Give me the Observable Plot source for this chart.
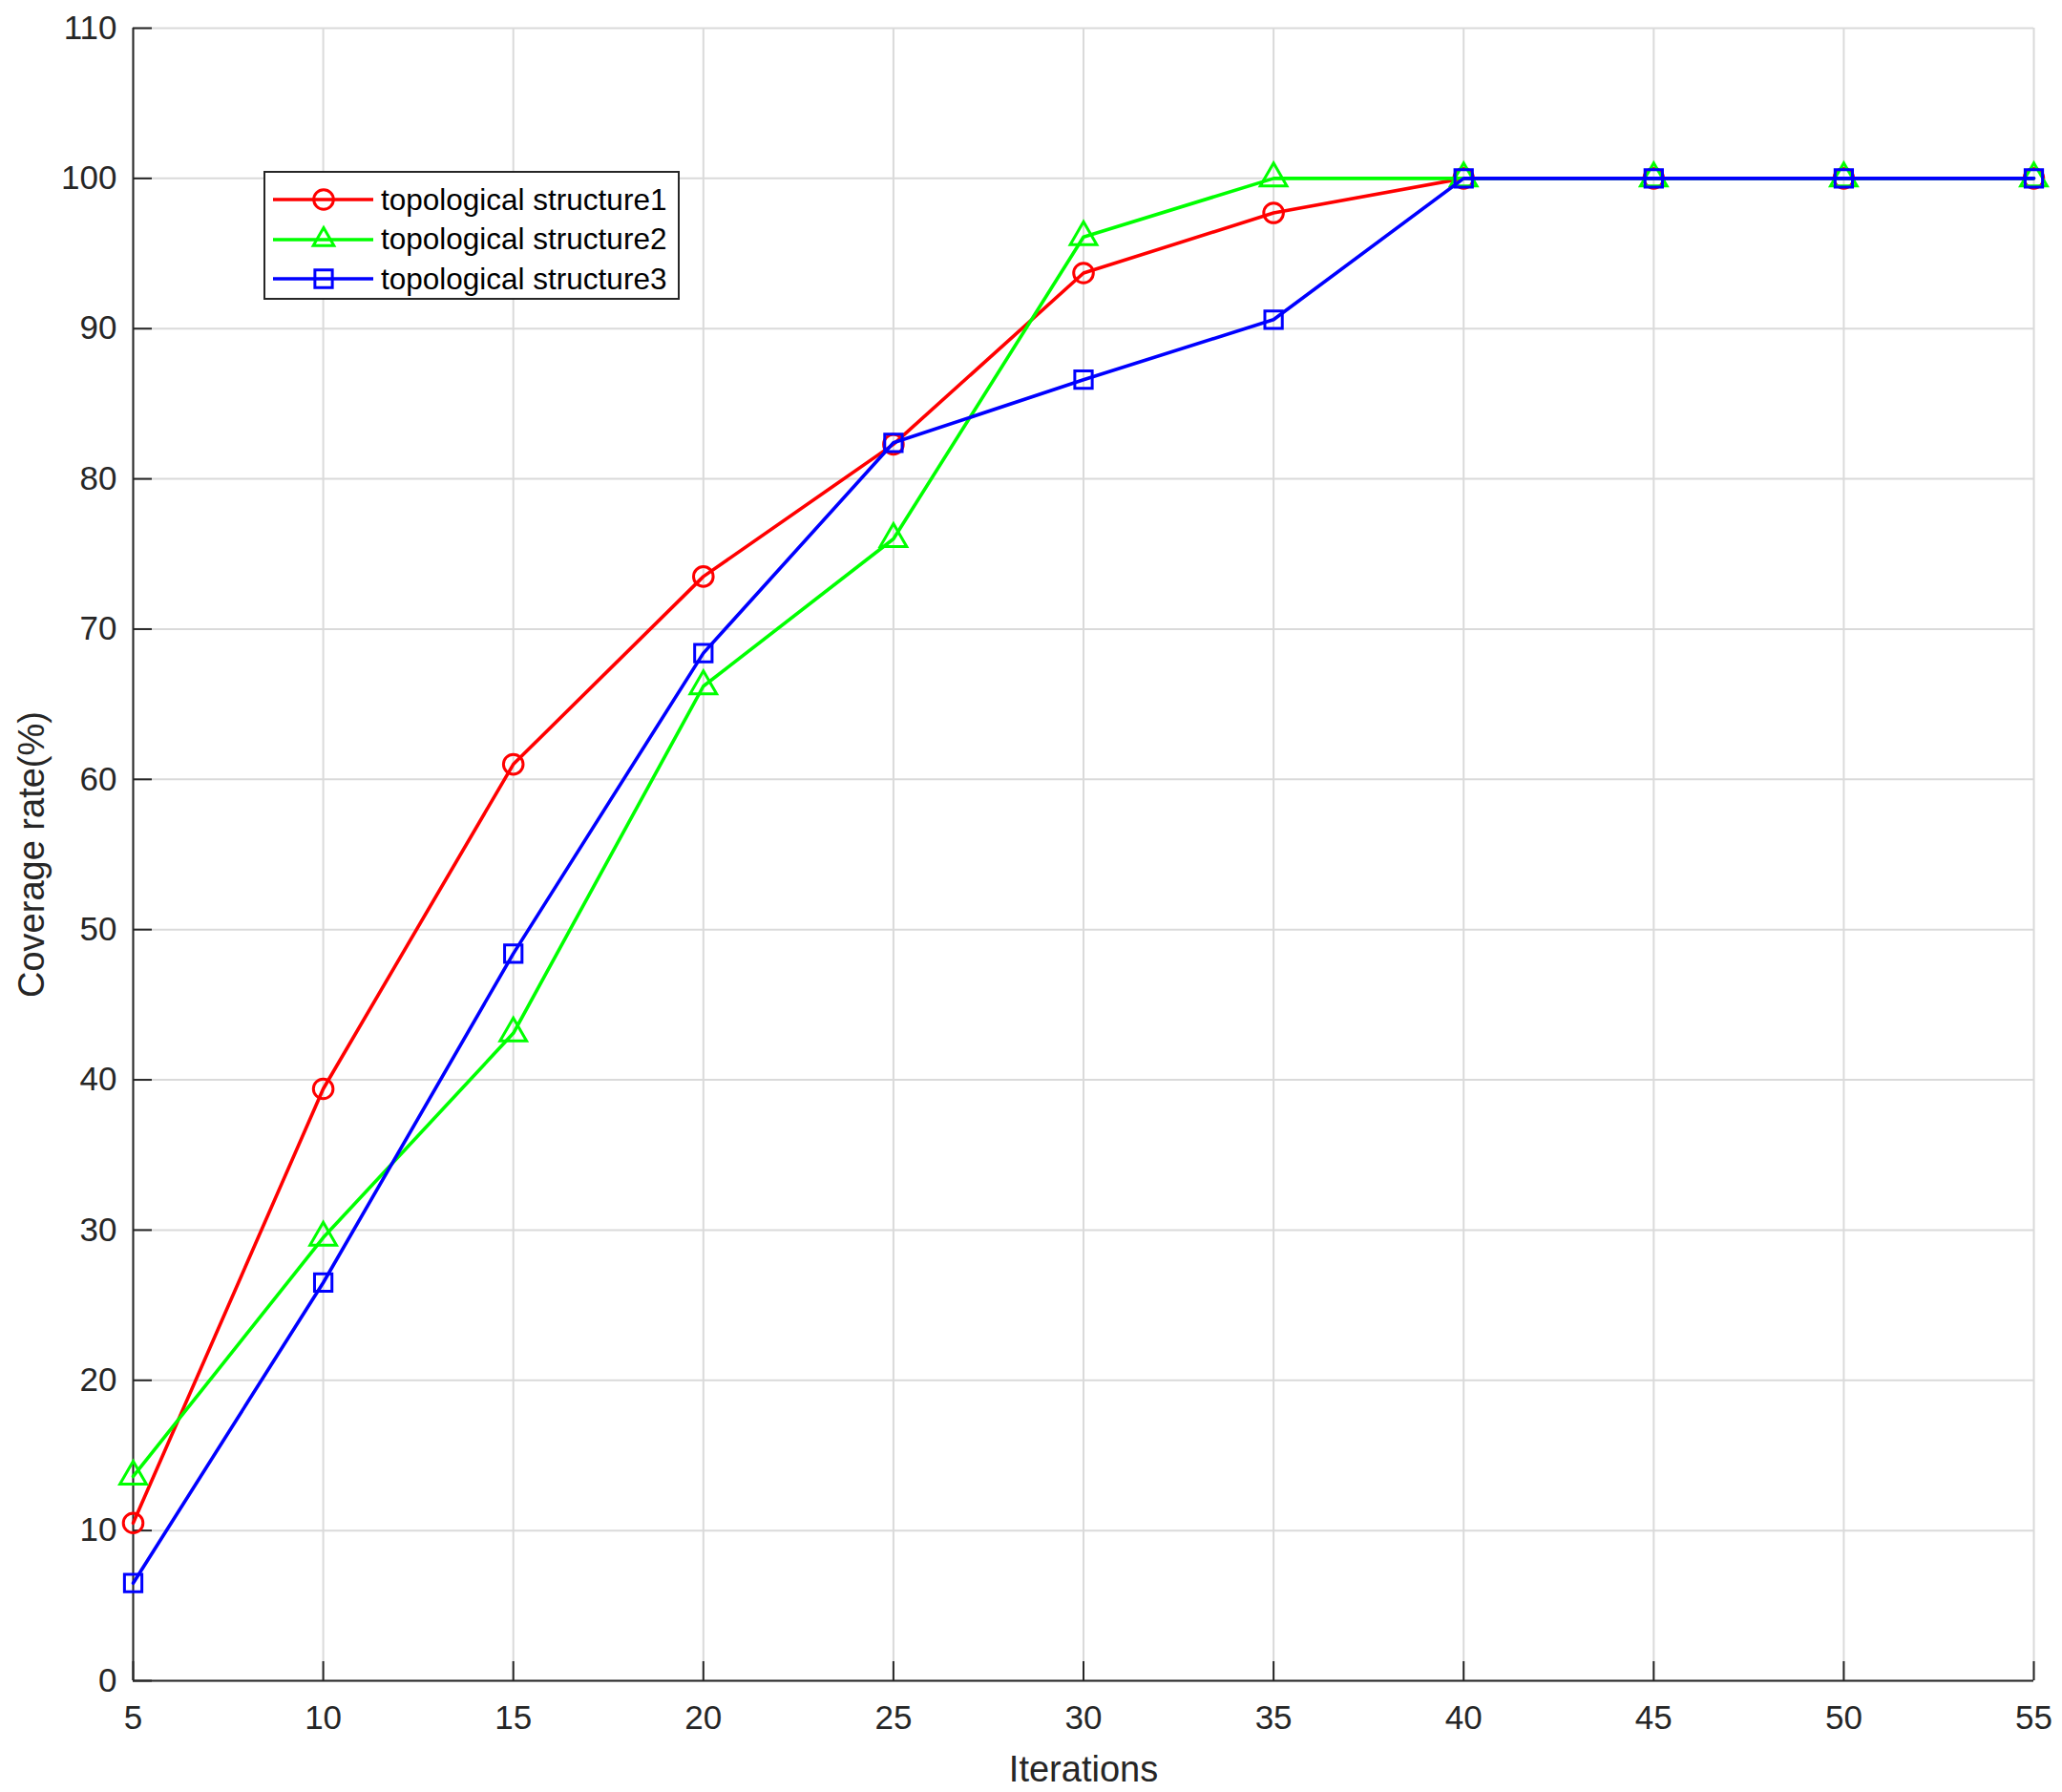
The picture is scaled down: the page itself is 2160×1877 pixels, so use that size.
<!DOCTYPE html>
<html>
<head>
<meta charset="utf-8">
<script src="https://cdn.jsdelivr.net/npm/d3@7"></script>
<script src="https://cdn.jsdelivr.net/npm/@observablehq/plot@0.6"></script>
<style>
  html, body { margin: 0; padding: 0; background: #fff; }
  #wrap { position: relative; width: 2160px; height: 1877px; font-family: "Liberation Sans", Arial, sans-serif; }
  #legend { position: absolute; left: 276px; top: 179px; width: 432px; height: 131px; border: 2px solid #262626; background: #fff; }
  .item { position: absolute; left: 0; height: 40px; display: flex; align-items: center; }
  .item svg { display: block; }
  .item span { font-size: 31.5px; color: #000; margin-left: 6px; white-space: nowrap; }
</style>
</head>
<body>
<div id="wrap"><div id="legend"></div></div>
<script>
const iterations = [5, 10, 15, 20, 25, 30, 35, 40, 45, 50, 55];
const structure1 = [10.5, 39.4, 61.0, 73.5, 82.3, 93.7, 97.7, 100, 100, 100, 100];
const structure2 = [13.6, 29.5, 43.1, 66.2, 76.0, 96.1, 100, 100, 100, 100, 100];
const structure3 = [6.5, 26.5, 48.4, 68.4, 82.4, 86.6, 90.6, 100, 100, 100, 100];
const seriesNames = ["topological structure1", "topological structure2", "topological structure3"];
const seriesColors = ["#ff0000", "#00ff00", "#0000ff"];
const seriesSymbols = ["circle", "triangle", "square"];
const xTicks = [5, 10, 15, 20, 25, 30, 35, 40, 45, 50, 55];
const yTicks = [0, 10, 20, 30, 40, 50, 60, 70, 80, 90, 100, 110];
const xLabel = "Iterations";
const yLabel = "Coverage rate(%)";

const seriesValues = [structure1, structure2, structure3];
const W = 2160, H = 1877, mL = 139, mR = 30, mT = 29, mB = 117;
const plotW = W - mL - mR, plotH = H - mT - mB;
const axisColor = "#262626";
const markerR = 10.3, markerSW = 3;

const seriesMarks = seriesValues.flatMap((vals, i) => {
  const rows = iterations.map((x, j) => ({x, y: vals[j]}));
  return [
    Plot.line(rows, {x: "x", y: "y", stroke: seriesColors[i], strokeWidth: 3.6}),
    Plot.dot(rows, {x: "x", y: "y", stroke: seriesColors[i], fill: "none", strokeWidth: markerSW, r: markerR, symbol: seriesSymbols[i]})
  ];
});

const chart = Plot.plot({
  width: W, height: H,
  marginLeft: mL, marginRight: mR, marginTop: mT, marginBottom: mB,
  style: {fontFamily: "'Liberation Sans', Arial, sans-serif", background: "#fff", color: axisColor},
  x: {domain: [5, 55]},
  y: {domain: [0, 110]},
  marks: [
    Plot.gridX(xTicks, {stroke: "#dadada", strokeOpacity: 1, strokeWidth: 2}),
    Plot.gridY(yTicks, {stroke: "#dadada", strokeOpacity: 1, strokeWidth: 2}),
    Plot.axisX(xTicks, {tickSize: 0, tickPadding: 26, fontSize: 35, fill: axisColor, label: null}),
    Plot.axisY(yTicks, {tickSize: 0, tickPadding: 17, fontSize: 35, fill: axisColor, label: null}),
    Plot.tickX(xTicks, {x: d => d, insetTop: plotH - 20, stroke: axisColor, strokeWidth: 2}),
    Plot.tickY(yTicks, {y: d => d, insetRight: plotW - 20, stroke: axisColor, strokeWidth: 2}),
    Plot.ruleX([5], {stroke: axisColor, strokeWidth: 2}),
    Plot.ruleY([0], {stroke: axisColor, strokeWidth: 2}),
    ...seriesMarks,
    Plot.text([xLabel], {text: d => d, frameAnchor: "bottom", textAnchor: "middle", lineAnchor: "middle", dy: 93, fontSize: 38, fill: axisColor}),
    Plot.text([yLabel], {text: d => d, frameAnchor: "left", textAnchor: "middle", lineAnchor: "middle", dx: -106, rotate: -90, fontSize: 38, fill: axisColor})
  ]
});
document.getElementById("wrap").prepend(chart);

// legend
const legend = document.getElementById("legend");
const symGen = {circle: d3.symbolCircle, triangle: d3.symbolTriangle2, square: d3.symbolSquare};
seriesNames.forEach((name, i) => {
  const item = document.createElement("div");
  item.className = "item";
  item.style.top = (8 + i * 41.5) + "px";
  const svg = d3.create("svg").attr("width", 115).attr("height", 40);
  svg.append("line").attr("x1", 8).attr("x2", 113).attr("y1", 20).attr("y2", 20)
    .attr("stroke", seriesColors[i]).attr("stroke-width", 3.6);
  svg.append("path").attr("transform", "translate(61,20)")
    .attr("d", d3.symbol(symGen[seriesSymbols[i]], Math.PI * markerR * markerR)())
    .attr("fill", "none").attr("stroke", seriesColors[i]).attr("stroke-width", markerSW);
  item.appendChild(svg.node());
  const span = document.createElement("span");
  span.textContent = name;
  item.appendChild(span);
  legend.appendChild(item);
});
</script>
</body>
</html>
